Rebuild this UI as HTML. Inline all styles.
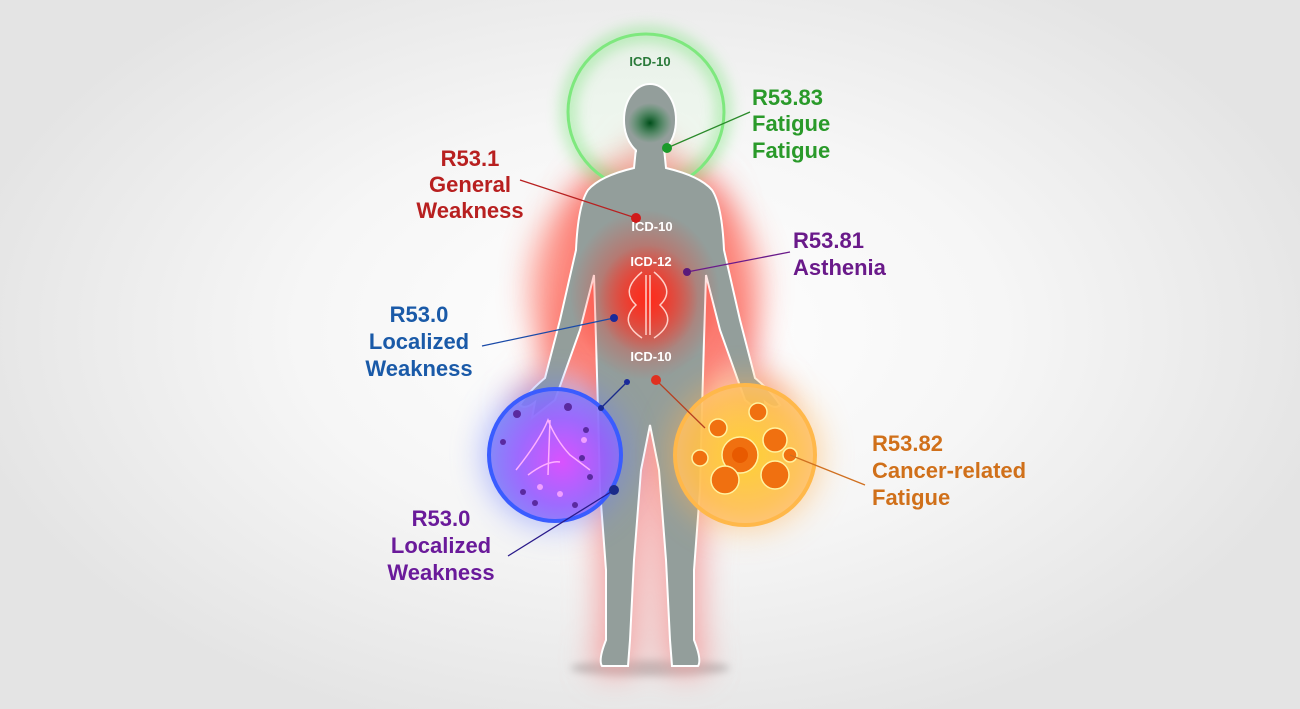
<!DOCTYPE html>
<html><head><meta charset="utf-8"><style>
html,body{margin:0;padding:0;}
body{width:1300px;height:709px;overflow:hidden;background:radial-gradient(ellipse 700px 420px at 650px 330px,#ffffff 0%,#f6f6f6 50%,#e4e4e4 100%);font-family:"Liberation Sans",sans-serif;}
svg{position:absolute;left:0;top:0;}
text{font-family:"Liberation Sans",sans-serif;font-weight:bold;}
</style></head><body>
<svg width="1300" height="709" viewBox="0 0 1300 709">
<defs>
<filter id="b8" x="-50%" y="-50%" width="200%" height="200%"><feGaussianBlur stdDeviation="8"/></filter>
<filter id="b16" x="-50%" y="-50%" width="200%" height="200%"><feGaussianBlur stdDeviation="16"/></filter>
<filter id="b4" x="-50%" y="-50%" width="200%" height="200%"><feGaussianBlur stdDeviation="4"/></filter>
<radialGradient id="rg" cx="0.5" cy="0.5" r="0.5"><stop offset="0" stop-color="#ff2a1a" stop-opacity="0.95"/><stop offset="1" stop-color="#ff2a1a" stop-opacity="0"/></radialGradient>
<radialGradient id="gg" cx="0.5" cy="0.5" r="0.5"><stop offset="0" stop-color="#004d1a"/><stop offset="1" stop-color="#1a8a3a" stop-opacity="0"/></radialGradient>
<radialGradient id="bl" cx="0.55" cy="0.55" r="0.55"><stop offset="0" stop-color="#e040ff"/><stop offset="0.6" stop-color="#9a5cff"/><stop offset="1" stop-color="#7a7cf8"/></radialGradient>
<radialGradient id="or" cx="0.5" cy="0.5" r="0.55"><stop offset="0" stop-color="#ffd020"/><stop offset="0.7" stop-color="#ffc050"/><stop offset="1" stop-color="#ffc070"/></radialGradient>
</defs>
<ellipse cx="650" cy="668" rx="80" ry="8" fill="#bbb" filter="url(#b4)"/>
<path d="M636,148 L634,168 Q600,176 588,190 Q578,205 576,250 L560,320 L545,378 Q528,392 520,405 Q525,410 535,402 L532,418 L555,400 L580,330 L594,275 L596,340 L598,410 L600,490 L606,570 L606,640 Q598,660 602,666 L628,666 L630,640 L634,560 L641,470 L650,425 L659,470 L666,560 L670,640 L672,666 L698,666 Q702,660 694,640 L694,570 L700,490 L702,410 L704,340 L706,275 L720,330 L745,400 L768,418 L765,402 Q775,410 780,405 Q772,392 755,378 L740,320 L724,250 Q722,205 712,190 Q700,176 666,168 L664,148 Z" fill="#f5a0a0" stroke="#f5a0a0" stroke-width="14" filter="url(#b16)"/>
<ellipse cx="645" cy="290" rx="115" ry="125" fill="#ff5a4a" opacity="0.6" filter="url(#b16)"/>
<circle cx="646" cy="112" r="78" fill="#d8f8d8" opacity="0.25"/>
<circle cx="646" cy="112" r="78" fill="none" stroke="#60e060" stroke-width="10" opacity="0.6" filter="url(#b8)"/>
<circle cx="646" cy="112" r="78" fill="none" stroke="#7ee87e" stroke-width="3"/>
<path d="M636,148 L634,168 Q600,176 588,190 Q578,205 576,250 L560,320 L545,378 Q528,392 520,405 Q525,410 535,402 L532,418 L555,400 L580,330 L594,275 L596,340 L598,410 L600,490 L606,570 L606,640 Q598,660 602,666 L628,666 L630,640 L634,560 L641,470 L650,425 L659,470 L666,560 L670,640 L672,666 L698,666 Q702,660 694,640 L694,570 L700,490 L702,410 L704,340 L706,275 L720,330 L745,400 L768,418 L765,402 Q775,410 780,405 Q772,392 755,378 L740,320 L724,250 Q722,205 712,190 Q700,176 666,168 L664,148 Z" fill="#939e9b" stroke="#ffffff" stroke-width="2"/>
<ellipse cx="650" cy="120" rx="26" ry="36" fill="#939e9b" stroke="#fff" stroke-width="2"/>
<rect x="637" y="140" width="26" height="30" fill="#939e9b"/>
<ellipse cx="650" cy="123" rx="22" ry="20" fill="url(#gg)"/>
<ellipse cx="645" cy="295" rx="75" ry="85" fill="url(#rg)" opacity="0.8"/>
<ellipse cx="648" cy="300" rx="50" ry="55" fill="url(#rg)"/>
<g fill="none" stroke="#ffd0c8" stroke-width="1.5">
<path d="M642,272 Q620,290 636,305 Q618,322 642,338"/>
<path d="M654,272 Q676,290 660,305 Q678,322 654,338"/>
<path d="M646,275 L646,335 M650,275 L650,335"/>
</g>
<circle cx="555" cy="455" r="72" fill="#6a7cff" opacity="0.5" filter="url(#b16)"/>
<circle cx="555" cy="455" r="66" fill="url(#bl)" opacity="0.85"/>
<circle cx="555" cy="455" r="66" fill="none" stroke="#3a5cff" stroke-width="4"/>
<g fill="#5a2aa0">
<circle cx="517" cy="414" r="4"/><circle cx="503" cy="442" r="3"/><circle cx="586" cy="430" r="3"/><circle cx="582" cy="458" r="3"/><circle cx="523" cy="492" r="3"/><circle cx="535" cy="503" r="3"/><circle cx="575" cy="505" r="3"/><circle cx="590" cy="477" r="3"/><circle cx="568" cy="407" r="4"/>
</g>
<g fill="#f0a0ff"><circle cx="584" cy="440" r="3"/><circle cx="540" cy="487" r="3"/><circle cx="560" cy="494" r="3"/></g>
<path d="M516,470 Q540,440 548,420 Q556,440 570,455 L590,470 M528,475 Q548,460 560,462 M550,420 L548,475" fill="none" stroke="#ffb0ff" stroke-width="1.5"/>
<circle cx="745" cy="455" r="76" fill="#ffb050" opacity="0.5" filter="url(#b16)"/>
<circle cx="745" cy="455" r="70" fill="url(#or)" opacity="0.85"/>
<circle cx="745" cy="455" r="70" fill="none" stroke="#ffb84a" stroke-width="4"/>
<g fill="#f07010" stroke="#fff2a0" stroke-width="1.5">
<circle cx="740" cy="455" r="18"/><circle cx="718" cy="428" r="9"/><circle cx="775" cy="440" r="12"/><circle cx="725" cy="480" r="14"/><circle cx="775" cy="475" r="14"/><circle cx="700" cy="458" r="8"/><circle cx="790" cy="455" r="7"/><circle cx="758" cy="412" r="9"/>
</g>
<circle cx="740" cy="455" r="8" fill="#e85a00"/>
<g stroke-width="1.3" fill="none">
<line x1="667" y1="148" x2="750" y2="112" stroke="#2a8a2a"/>
<line x1="636" y1="218" x2="520" y2="180" stroke="#b82020"/>
<line x1="687" y1="272" x2="790" y2="252" stroke="#6a1a8a"/>
<line x1="614" y1="318" x2="482" y2="346" stroke="#1a4aa8"/>
<line x1="627" y1="382" x2="601" y2="408" stroke="#1a2a8a"/>
<line x1="614" y1="490" x2="508" y2="556" stroke="#2a1a8a"/>
<line x1="656" y1="380" x2="705" y2="428" stroke="#b84020"/>
<line x1="790" y1="455" x2="865" y2="485" stroke="#d07020"/>
</g>
<g>
<circle cx="667" cy="148" r="5" fill="#1a9a2a"/>
<circle cx="636" cy="218" r="5" fill="#d01a1a"/>
<circle cx="687" cy="272" r="4" fill="#5a1a7a"/>
<circle cx="614" cy="318" r="4" fill="#1a2a9a"/>
<circle cx="627" cy="382" r="3" fill="#1a2a9a"/>
<circle cx="601" cy="408" r="3" fill="#1a2a9a"/>
<circle cx="614" cy="490" r="5" fill="#1a2a8a"/>
<circle cx="656" cy="380" r="5" fill="#e03020"/>
</g>
<g font-size="13" text-anchor="middle">
<text x="650" y="66" fill="#2a7a3a">ICD-10</text>
<text x="652" y="231" fill="#ffffff">ICD-10</text>
<text x="651" y="266" fill="#ffffff">ICD-12</text>
<text x="651" y="361" fill="#ffffff">ICD-10</text>
</g>
<g font-size="22">
<text x="752" y="105" fill="#2a9a2a">R53.83</text>
<text x="752" y="131" fill="#2a9a2a">Fatigue</text>
<text x="752" y="158" fill="#2a9a2a">Fatigue</text>
<text x="470" y="166" fill="#b82020" text-anchor="middle">R53.1</text>
<text x="470" y="192" fill="#b82020" text-anchor="middle">General</text>
<text x="470" y="218" fill="#b82020" text-anchor="middle">Weakness</text>
<text x="793" y="248" fill="#6a1a8a">R53.81</text>
<text x="793" y="275" fill="#6a1a8a">Asthenia</text>
<text x="419" y="322" fill="#1a5aa8" text-anchor="middle">R53.0</text>
<text x="419" y="349" fill="#1a5aa8" text-anchor="middle">Localized</text>
<text x="419" y="376" fill="#1a5aa8" text-anchor="middle">Weakness</text>
<text x="441" y="526" fill="#6a1a9a" text-anchor="middle">R53.0</text>
<text x="441" y="553" fill="#6a1a9a" text-anchor="middle">Localized</text>
<text x="441" y="580" fill="#6a1a9a" text-anchor="middle">Weakness</text>
<text x="872" y="451" fill="#d0701a">R53.82</text>
<text x="872" y="478" fill="#d0701a">Cancer-related</text>
<text x="872" y="505" fill="#d0701a">Fatigue</text>
</g>
</svg>
</body></html>
